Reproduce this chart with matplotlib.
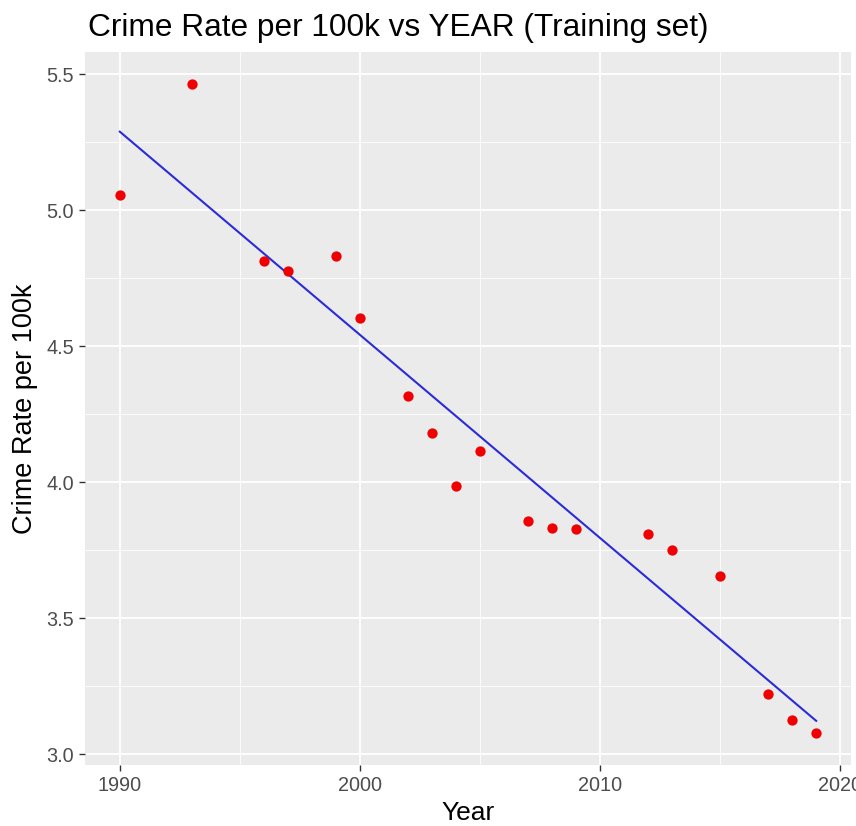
import numpy as np
import matplotlib
matplotlib.use("Agg")
import matplotlib.pyplot as plt
from matplotlib.ticker import MultipleLocator

plt.rcParams['font.family'] = ['Liberation Sans', 'DejaVu Sans']

# Training set values
years = [1990, 1993, 1996, 1997, 1999, 2000, 2002, 2003, 2004, 2005,
         2007, 2008, 2009, 2012, 2013, 2015, 2017, 2018, 2019]
crime_rate = [5.055, 5.463, 4.812, 4.777, 4.833, 4.604, 4.318, 4.182, 3.988, 4.117,
              3.857, 3.833, 3.830, 3.810, 3.751, 3.655, 3.222, 3.125, 3.080]

x = np.array(years, dtype=float)
y = np.array(crime_rate)

# linear fit, like geom_smooth(method = "lm")
slope, intercept = np.polyfit(x, y, 1)
fit_x = np.array([x.min(), x.max()])
fit_y = slope * fit_x + intercept

fig = plt.figure(figsize=(8.56, 8.26), dpi=100)
ax = fig.add_axes([85 / 856, 1 - 765 / 826, (851 - 85) / 856, (765 - 52) / 826])

ax.set_facecolor('#EBEBEB')
for s in ax.spines.values():
    s.set_visible(False)

ax.scatter(x, y, s=55, color='#F00000', zorder=3, linewidths=0)
ax.plot(fit_x, fit_y, color='#2B2BD9', linewidth=1.5, zorder=2)

# ggplot-style 5% padding around the data range
xr = x.max() - x.min()
yr = y.max() - y.min()
ax.set_xlim(x.min() - 0.05 * xr, x.max() + 0.05 * xr)
ax.set_ylim(y.min() - 0.05 * yr, y.max() + 0.05 * yr)

ax.xaxis.set_major_locator(MultipleLocator(10))
ax.xaxis.set_minor_locator(MultipleLocator(5))
ax.yaxis.set_major_locator(MultipleLocator(0.5))
ax.yaxis.set_minor_locator(MultipleLocator(0.25))
ax.yaxis.set_major_formatter(matplotlib.ticker.FormatStrFormatter('%.1f'))

ax.grid(which='major', color='white', linewidth=1.3)
ax.grid(which='minor', color='white', linewidth=0.6)
ax.set_axisbelow(True)

ax.tick_params(which='major', length=4, width=1, color='#333333',
               labelsize=14.3, labelcolor='#4D4D4D', pad=4)
ax.tick_params(which='minor', length=0)

ax.set_xlabel('Year', fontsize=19, color='black', labelpad=4)
ax.set_ylabel('Crime Rate per 100k', fontsize=19.5, color='black', labelpad=6)
fig.text(88 / 856, 1 - 28 / 826, 'Crime Rate per 100k vs YEAR (Training set)',
         fontsize=22.8, va='center', ha='left')

fig.savefig('out.png', dpi=100, facecolor='white')
